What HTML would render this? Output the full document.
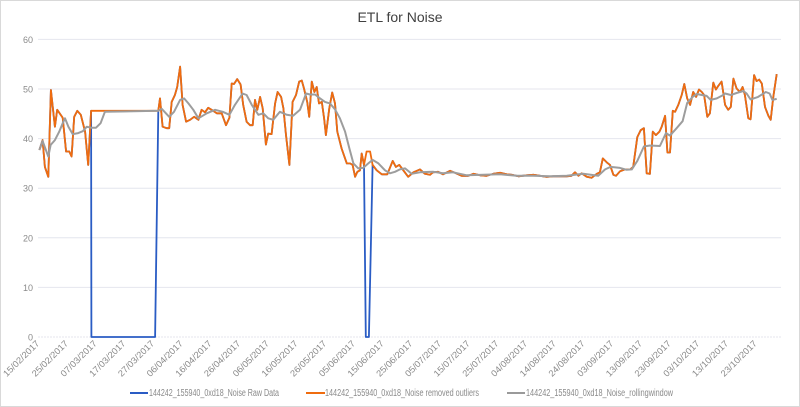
<!DOCTYPE html>
<html><head><meta charset="utf-8"><style>
body{margin:0;background:#fff}
svg{display:block;font-family:"Liberation Sans",sans-serif}
</style></head><body>
<svg id="chart" width="800" height="407" viewBox="0 0 800 407" xmlns="http://www.w3.org/2000/svg">
<rect x="0.5" y="0.5" width="799" height="406" fill="#fff" stroke="#d9d9d9"/>
<text x="400" y="22" text-anchor="middle" font-size="14" fill="#404040">ETL for Noise</text>
<g id="grid"></g>
<g id="yaxis"></g>
<g id="xaxis"></g>
<g id="series"></g>
<g font-size="10" fill="#8a8a8a">
<g><line x1="130" y1="393" x2="148" y2="393" stroke="#2a5cc4" stroke-width="2"/><text x="149" y="396" textLength="130" lengthAdjust="spacingAndGlyphs">144242_155940_0xd18_Noise Raw Data</text></g>
<g><line x1="306" y1="393" x2="325" y2="393" stroke="#ef6c0f" stroke-width="2"/><text x="325" y="396" textLength="154" lengthAdjust="spacingAndGlyphs">144242_155940_0xd18_Noise removed outliers</text></g>
<g><line x1="507" y1="393" x2="525" y2="393" stroke="#9a9a9a" stroke-width="2"/><text x="526" y="396" textLength="147" lengthAdjust="spacingAndGlyphs">144242_155940_0xd18_Noise_rollingwindow</text></g>
</g>
</svg>
<script>
const yTicks=[0,10,20,30,40,50,60];
const orangeDays=[0.5,1.6,2.4,3.6,4.5,5.9,6.7,8.6,9.8,10.9,11.7,12.6,13.7,14.9,16.4,17.5,18.5,41.9,42.5,43.4,44.8,45.7,46.6,47.7,48.5,49.5,50.4,51.6,53.0,54.4,55.9,57.0,58.2,59.3,60.5,62.3,64.0,65.5,66.7,67.5,68.3,69.4,70.6,71.5,72.7,73.9,74.8,75.6,76.4,77.4,78.3,79.4,80.2,81.4,82.6,83.5,84.7,85.5,86.4,87.6,88.7,89.9,91.0,91.9,92.7,93.8,94.5,95.4,96.3,97.1,97.9,98.9,99.7,100.3,101.5,102.5,103.5,104.3,105.8,107.6,108.7,109.6,110.5,111.3,112.2,112.8,113.6,114.5,115.7,116.6,118.0,119.8,121.7,123.6,124.7,125.9,129.0,130.8,133.1,134.8,136.6,137.6,139.4,141.1,143.6,145.3,147.6,149.9,151.7,154.0,156.3,158.6,161.0,163.3,165.1,167.4,170.3,172.6,174.9,177.2,179.5,181.9,184.2,185.9,187.1,188.3,189.4,191.2,192.9,194.7,195.8,196.8,198.2,199.3,200.5,201.4,202.8,204.5,206.3,207.4,208.8,210.0,211.1,212.1,213.2,214.2,215.3,216.5,217.3,218.5,219.3,220.2,221.2,222.0,223.1,224.3,225.2,226.2,227.2,228.3,229.3,230.3,231.3,232.1,233.2,234.1,235.3,236.2,237.0,238.2,239.4,240.5,241.4,242.3,243.4,244.6,245.5,246.3,247.5,248.3,249.5,250.4,251.3,252.2,253.3,254.5,255.3,256.2,257.4];
const orangeValues=[37.7,39.7,34.3,32.3,49.8,42.4,45.8,44.2,37.4,37.4,36.4,44.4,45.6,44.8,41.4,34.7,45.6,45.6,48.1,42.4,42.1,42.1,47.4,48.8,50.4,54.5,46.8,43.4,43.8,44.4,43.8,45.8,45.3,46.2,45.8,45.1,45.1,42.7,44.2,51.1,51.0,52.0,50.9,46.8,43.4,42.7,42.7,47.8,45.8,48.4,46.1,38.8,41.0,40.9,47.1,49.4,48.4,46.1,40.7,34.7,47.4,48.8,51.5,51.7,50.1,47.4,44.4,51.5,49.4,50.4,47.1,47.4,44.1,40.7,46.1,49.3,47.1,41.4,38.0,35.0,35.0,34.7,32.3,33.3,33.6,37.0,34.7,37.4,37.4,34.7,33.6,32.8,32.8,35.5,34.3,34.7,32.3,33.2,33.8,32.9,32.7,33.2,33.3,32.8,33.5,33.1,32.5,32.5,32.9,32.6,32.5,32.9,33.1,32.8,32.7,32.4,32.6,32.7,32.5,32.3,32.4,32.4,32.4,32.5,33.2,32.5,33.0,32.3,32.1,32.9,33.2,36.0,35.2,34.7,32.7,32.5,33.4,33.8,33.8,34.3,40.3,41.7,42.1,33.0,32.9,41.4,40.7,41.4,42.4,44.6,37.2,37.2,45.6,45.4,46.8,48.8,51.0,48.1,46.8,49.4,48.4,49.9,49.4,48.8,44.4,45.1,51.3,49.9,50.6,51.5,46.8,45.8,46.4,52.1,50.1,49.4,50.4,48.8,44.1,43.9,52.8,51.6,51.9,51.1,46.4,44.6,43.8,48.4,53.0];
const grayDays=[0.5,1.6,3.6,4.4,5.9,7.4,8.6,9.4,10.6,12.1,14.0,15.6,17.0,18.4,20.2,21.8,23.3,41.9,43.1,45.7,47.4,49.5,50.9,52.4,54.1,55.9,58.8,61.7,64.4,66.7,68.6,71.3,72.7,74.5,76.8,78.5,80.2,82.0,84.3,86.7,88.9,91.3,93.4,94.8,96.5,98.3,100.0,101.7,103.5,105.2,107.0,108.5,109.9,111.6,113.3,115.1,116.6,118.6,120.9,122.6,124.4,126.1,127.9,130.2,133.1,137.6,141.1,144.6,149.4,155.2,161.0,166.8,172.6,178.4,184.2,190.0,195.2,197.6,199.5,202.8,205.1,206.9,208.8,211.1,213.2,216.7,218.8,220.2,222.5,224.6,226.2,228.1,229.5,231.3,233.0,234.4,236.5,238.2,239.4,241.4,243.4,245.8,246.9,248.3,250.9,253.6,254.9,255.9,257.4];
const grayValues=[37.7,39.5,36.4,38.7,39.7,41.4,43.1,44.1,42.4,40.9,41.1,41.5,42.4,42.2,42.2,43.1,45.4,45.6,46.0,44.4,45.4,47.8,48.1,47.1,45.8,44.1,45.1,45.8,45.4,44.8,46.8,49.1,48.8,46.8,44.8,45.1,44.1,43.8,45.4,44.8,44.6,45.8,49.1,48.9,48.9,48.1,47.4,47.1,45.9,44.1,41.4,38.0,35.0,34.0,34.1,35.0,35.7,35.0,33.6,33.0,33.3,33.8,34.0,32.9,33.2,33.3,33.0,33.2,32.6,32.7,32.8,32.5,32.5,32.4,32.5,32.9,32.5,33.8,34.3,34.1,33.7,33.8,35.5,38.4,38.6,38.5,41.1,40.6,42.1,43.5,47.2,48.4,49.0,48.8,48.6,47.8,48.1,48.6,49.1,48.8,49.2,49.6,49.1,47.9,48.4,49.4,49.1,47.8,48.0];
// raw data: identical to the cleaned series except these dropouts to zero
const rawGapDays=[18.6,40.8,114.2,115.3];
const rawGapValues=[0,0,0,0];
const startDate=[2017,2,15];
const xTickStep=10, xTickCount=26;

const X0=38, PX_PER_DAY=2.87, Y0=337, PX_PER_UNIT=4.96;
const xs=d=>X0+d*PX_PER_DAY;
const ys=v=>Y0-v*PX_PER_UNIT;
const NS="http://www.w3.org/2000/svg";
function mk(tag,attrs,parent){const e=document.createElementNS(NS,tag);for(const k in attrs)e.setAttribute(k,attrs[k]);parent.appendChild(e);return e;}
const grid=document.getElementById('grid'),yax=document.getElementById('yaxis'),xax=document.getElementById('xaxis'),ser=document.getElementById('series');
yTicks.forEach(t=>{
  const l=mk('line',{x1:38,x2:781,y1:ys(t),y2:ys(t),stroke:'#e4e6ee','stroke-width':1,'stroke-dasharray':t===0?'2,1':''},grid);
  
  
  const tx=mk('text',{x:33,y:ys(t)+3.5,'text-anchor':'end','font-size':9,fill:'#8a8a8a'},yax);
  tx.textContent=t;
  
  
});
for(let i=0;i<xTickCount;i++){
  const d=i*xTickStep;
  const dt=new Date(Date.UTC(startDate[0],startDate[1]-1,startDate[2]+d));
  const s=String(dt.getUTCDate()).padStart(2,'0')+'/'+String(dt.getUTCMonth()+1).padStart(2,'0')+'/'+dt.getUTCFullYear();
  const x=xs(d)+2, y=344;
  const tx=mk('text',{x:x,y:y,'text-anchor':'end','font-size':9,fill:'#8a8a8a',textLength:47,lengthAdjust:'spacingAndGlyphs',transform:`rotate(-45 ${x} ${y})`},xax);
  tx.textContent=s;
  
  
}
function pts(days,vals){return days.map((d,i)=>xs(d).toFixed(1)+','+ys(vals[i]).toFixed(1)).join(' ');}
const rawDays=[],rawValues=[];
orangeDays.forEach((d,i)=>{ if((d>18.5&&d<41.9)||(d>113.7&&d<116.5)) return; rawDays.push(d);rawValues.push(orangeValues[i]);});
rawGapDays.forEach((d,i)=>{rawDays.push(d);rawValues.push(rawGapValues[i]);});
const order=rawDays.map((d,i)=>i).sort((a,b)=>rawDays[a]-rawDays[b]);
const rd=order.map(i=>rawDays[i]), rv=order.map(i=>rawValues[i]);
const raw=mk('polyline',{points:pts(rd,rv),fill:'none',stroke:'#2a5cc4','stroke-width':1.8,'stroke-linejoin':'round'},ser);


const og=mk('polyline',{points:pts(orangeDays,orangeValues),fill:'none',stroke:'#ef6c0f','stroke-width':1.8,'stroke-linejoin':'round'},ser);


const gr=mk('polyline',{points:pts(grayDays,grayValues),fill:'none',stroke:'#9d9d9d','stroke-width':2,'stroke-linejoin':'round'},ser);


</script>
</body></html>
